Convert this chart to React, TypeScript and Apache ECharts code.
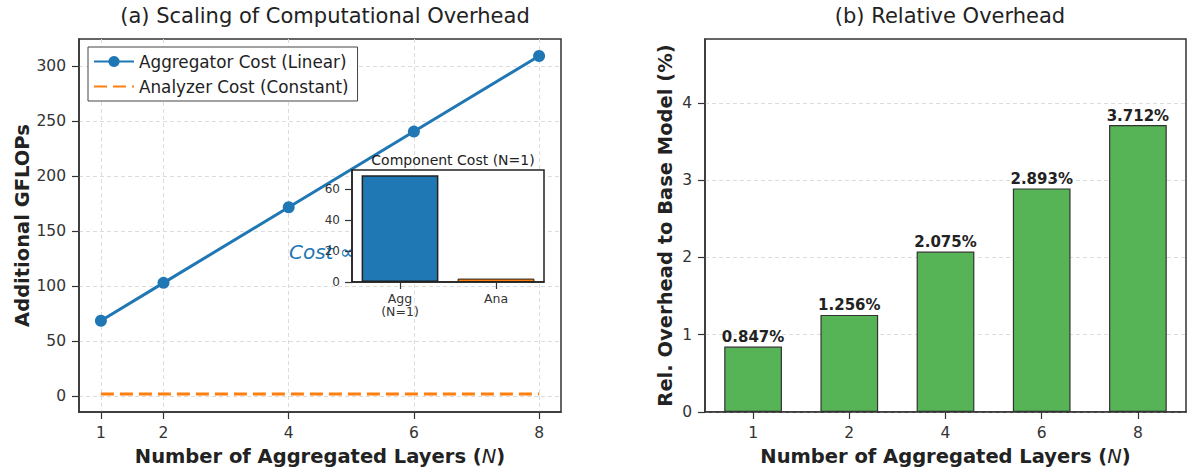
import React, { useEffect, useRef } from 'react';
import * as echarts from 'echarts';

// ---- data ----
const layerTicks = [1, 2, 4, 6, 8];
const aggregatorCost = [68.7, 103.1, 171.8, 240.5, 309.2];
const analyzerCost = [2.2, 2.2, 2.2, 2.2, 2.2];
const gflopTicks = [0, 50, 100, 150, 200, 250, 300];

const insetCategories = ['Agg\n(N=1)', 'Ana'];
const insetValues = [68.7, 2.2];
const insetTicks = [0, 20, 40, 60];

const relCategories = ['1', '2', '4', '6', '8'];
const relOverhead = [0.847, 1.256, 2.075, 2.893, 3.712];
const relTicks = [0, 1, 2, 3, 4];

const FONT = 'DejaVu Sans';
const DARK = '#333';
const TICK_FS = 15.5;
const NAME_FS = 19.5;
const GRID_LINE = { show: true, lineStyle: { type: [4, 3] as any, color: '#dcdcdc', width: 1 } };

export default function App() {
  const ref = useRef<HTMLDivElement>(null);
  useEffect(() => {
    document.body.style.margin = '0';
    const chart = echarts.init(ref.current!, null, { renderer: 'svg' });
    const axisLine = { show: true, onZero: false, lineStyle: { color: DARK, width: 1.5 } };
    const tickStyle = { color: DARK, width: 1.2 };
    const nameRich = {
      b: { fontFamily: FONT, fontWeight: 'bold', fontSize: NAME_FS, color: '#222' },
      i: { fontFamily: FONT, fontWeight: 'normal', fontStyle: 'italic', fontSize: NAME_FS, color: '#222' },
    };
    const option: any = {
      animation: false,
      textStyle: { fontFamily: FONT },
      title: [
        { text: '(a) Scaling of Computational Overhead', left: 320, top: 0, textAlign: 'center',
          textStyle: { fontFamily: FONT, fontWeight: 'normal', fontSize: 21, color: '#222' } },
        { text: '(b) Relative Overhead', left: 945, top: 0, textAlign: 'center',
          textStyle: { fontFamily: FONT, fontWeight: 'normal', fontSize: 21, color: '#222' } },
        { text: 'Component Cost (N=1)', left: 448, top: 148, textAlign: 'center', z: 12,
          textStyle: { fontFamily: FONT, fontWeight: 'normal', fontSize: 14, color: '#222' } },
      ],
      legend: {
        data: [
          { name: 'Aggregator Cost (Linear)' },
          { name: 'Analyzer Cost (Constant)', itemStyle: { opacity: 0 } },
        ],
        orient: 'vertical', left: 88, top: 47, padding: [6, 9, 6, 5],
        itemGap: 8, itemWidth: 40, itemHeight: 14,
        borderColor: '#444', borderWidth: 1, borderRadius: 0, backgroundColor: '#fff',
        textStyle: { fontFamily: FONT, fontSize: 16.8, color: '#222' },
      },
      graphic: [
        { type: 'text', left: 289, top: 242, z: 0,
          style: { text: 'Cost \u221D N', font: 'italic 20px "DejaVu Sans"', fill: '#1f77b4' } },
        { type: 'rect', shape: { x: 352, y: 170, width: 192, height: 112 }, z: 10,
          style: { fill: '#fff', stroke: '#222', lineWidth: 1.5 } },
      ],
      grid: [
        { left: 79, top: 39, width: 482, height: 373, show: true, borderColor: DARK, borderWidth: 1.5 },
        { left: 352, top: 170, width: 192, height: 112 },
        { left: 705, top: 39, width: 481, height: 373, show: true, borderColor: DARK, borderWidth: 1.5 },
      ],
      xAxis: [
        {
          gridIndex: 0, type: 'value', min: 0.65, max: 8.35,
          axisLine,
          axisTick: { show: true, customValues: layerTicks, length: 7, lineStyle: tickStyle },
          axisLabel: { customValues: layerTicks, fontSize: TICK_FS, color: DARK, margin: 13, fontFamily: FONT },
          splitLine: GRID_LINE,
          name: '{b|Number of Aggregated Layers (}{i|N}{b|)}', nameLocation: 'middle', nameGap: 34,
          nameTextStyle: { rich: nameRich },
        },
        {
          gridIndex: 1, type: 'category', data: insetCategories, z: 12,
          axisLine: { show: true, lineStyle: { color: '#222', width: 1.5 } },
          axisTick: { show: true, alignWithLabel: true, length: 7, lineStyle: tickStyle },
          axisLabel: { interval: 0, fontSize: 12.5, color: DARK, margin: 10, fontFamily: FONT, lineHeight: 13 },
          splitLine: { show: false },
        },
        {
          gridIndex: 2, type: 'category', data: relCategories,
          axisLine,
          axisTick: { show: true, alignWithLabel: true, length: 7, lineStyle: tickStyle },
          axisLabel: { interval: 0, fontSize: TICK_FS, color: DARK, margin: 13, fontFamily: FONT },
          splitLine: { show: false },
          name: '{b|Number of Aggregated Layers (}{i|N}{b|)}', nameLocation: 'middle', nameGap: 34,
          nameTextStyle: { rich: nameRich },
        },
      ],
      yAxis: [
        {
          gridIndex: 0, type: 'value', min: -14.2, max: 324.6,
          axisLine,
          axisTick: { show: true, customValues: gflopTicks, length: 7, lineStyle: tickStyle },
          axisLabel: { customValues: gflopTicks, fontSize: TICK_FS, color: DARK, margin: 13, fontFamily: FONT },
          splitLine: GRID_LINE,
          name: 'Additional GFLOPs', nameLocation: 'middle', nameGap: 39,
          nameTextStyle: { fontFamily: FONT, fontWeight: 'bold', fontSize: NAME_FS, color: '#222' },
        },
        {
          gridIndex: 1, type: 'value', min: 0, max: 72.1, z: 12,
          axisLine: { show: true, onZero: false, lineStyle: { color: '#222', width: 1.5 } },
          axisTick: { show: true, customValues: insetTicks, length: 7, lineStyle: tickStyle },
          axisLabel: { customValues: insetTicks, fontSize: 12, color: DARK, margin: 12, fontFamily: FONT },
          splitLine: { show: false },
        },
        {
          gridIndex: 2, type: 'value', min: 0, max: 4.8256,
          axisLine,
          axisTick: { show: true, customValues: relTicks, length: 7, lineStyle: tickStyle },
          axisLabel: { customValues: relTicks, fontSize: TICK_FS, color: DARK, margin: 13, fontFamily: FONT },
          splitLine: GRID_LINE,
          name: 'Rel. Overhead to Base Model (%)', nameLocation: 'middle', nameGap: 30,
          nameTextStyle: { fontFamily: FONT, fontWeight: 'bold', fontSize: NAME_FS, color: '#222' },
        },
      ],
      series: [
        {
          name: 'Aggregator Cost (Linear)', type: 'line', xAxisIndex: 0, yAxisIndex: 0, z: 3,
          data: layerTicks.map((x, i) => [x, aggregatorCost[i]]),
          symbol: 'circle', symbolSize: 12,
          itemStyle: { color: '#1f77b4' },
          lineStyle: { color: '#1f77b4', width: 3 },
        },
        {
          name: 'Analyzer Cost (Constant)', type: 'line', xAxisIndex: 0, yAxisIndex: 0, z: 3,
          data: layerTicks.map((x, i) => [x, analyzerCost[i]]),
          symbol: 'none', showSymbol: false,
          itemStyle: { color: '#ff7f0e' },
          lineStyle: { color: '#ff7f0e', width: 3, type: [13, 6] },
        },
        {
          type: 'bar', xAxisIndex: 1, yAxisIndex: 1, z: 12, barWidth: '80%',
          data: insetValues.map((v, i) => ({
            value: v,
            itemStyle: { color: i === 0 ? '#1f77b4' : '#ff7f0e', borderColor: '#222', borderWidth: i === 0 ? 1.5 : 1 },
          })),
        },
        {
          type: 'bar', xAxisIndex: 2, yAxisIndex: 2, barWidth: '60%',
          data: relOverhead,
          itemStyle: { color: '#56b356', borderColor: '#333', borderWidth: 1.2 },
          label: {
            show: true, position: 'top', distance: 2,
            formatter: (p: any) => `${p.value.toFixed(3)}%`,
            fontFamily: FONT, fontWeight: 'bold', fontSize: 15, color: '#222',
          },
        },
      ],
    };
    chart.setOption(option);
    return () => chart.dispose();
  }, []);
  return <div ref={ref} style={{ position: 'absolute', left: 0, top: 0, width: 1194, height: 472 }} />;
}
